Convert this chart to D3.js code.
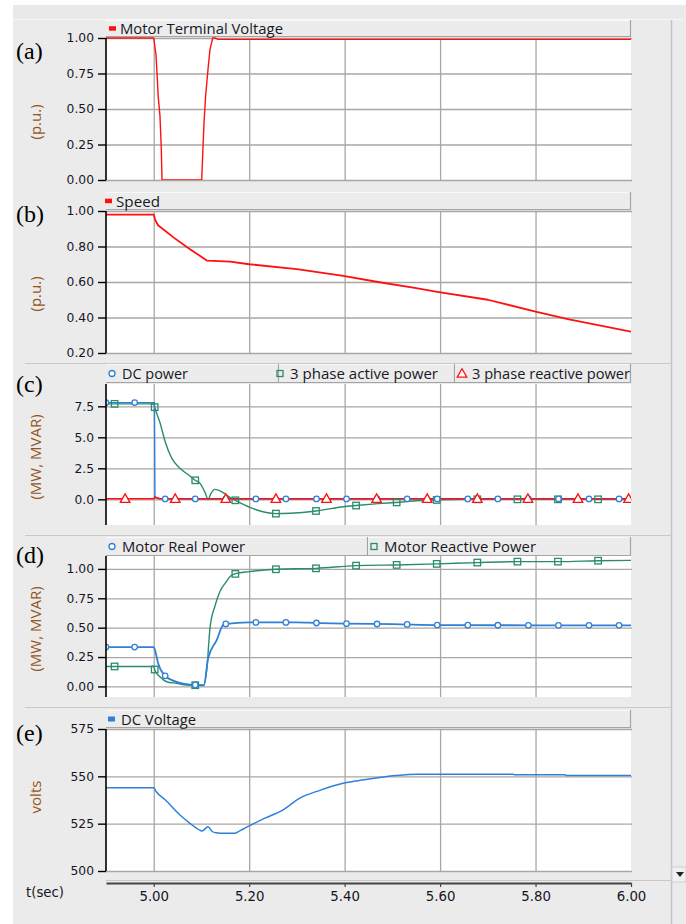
<!DOCTYPE html>
<html><head><meta charset="utf-8">
<script src="https://cdn.jsdelivr.net/npm/d3@7/dist/d3.min.js"></script>
<style>body{margin:0;background:#fff}svg{display:block}</style></head>
<body><svg id="c" width="686" height="924"></svg>
<script>
// ---------- data ----------
const xDomain = [4.9, 6.0];
const xTicks = [5.0, 5.2, 5.4, 5.6, 5.8, 6.0];
const xTickLabels = ["5.00", "5.20", "5.40", "5.60", "5.80", "6.00"];

// (a) Motor terminal voltage
const vtT = [4.90, 5.000, 5.0048, 5.0096, 5.0131, 5.0159, 5.0173, 5.1005, 5.1053, 5.1089, 5.1143, 5.1179, 5.1236, 5.1284, 5.135, 6.00];
const vtV = [1.00, 1.00, 0.88, 0.58, 0.45, 0.22, 0.00, 0.00, 0.40, 0.60, 0.80, 0.92, 1.00, 1.00, 0.99, 0.99];
const aTicks = [0, 0.25, 0.5, 0.75, 1.0];

// (b) Speed
const spT = [4.90, 5.000, 5.003, 5.009, 5.042, 5.076, 5.112, 5.160, 5.200, 5.300, 5.397, 5.47, 5.55, 5.594, 5.70, 5.80, 5.87, 6.00];
const spV = [0.98, 0.98, 0.95, 0.92, 0.85, 0.785, 0.72, 0.715, 0.70, 0.673, 0.635, 0.60, 0.565, 0.545, 0.50, 0.433, 0.39, 0.32];
const bTicks = [0.2, 0.4, 0.6, 0.8, 1.0];

// (c) DC power / 3 phase active / 3 phase reactive
const dcpT = [4.90, 5.0015, 5.0025, 5.02, 6.00];
const dcpV = [7.8, 7.8, 0.12, 0.03, 0.03];
const apT = [4.90, 5.000, 5.003, 5.013, 5.024, 5.038, 5.055, 5.076, 5.086, 5.097, 5.107, 5.114, 5.120, 5.128, 5.143, 5.160, 5.172, 5.191, 5.212, 5.256, 5.286, 5.340, 5.397, 5.424, 5.47, 5.508, 5.55, 5.594, 5.65, 6.00];
const apV = [7.7, 7.7, 7.3, 6.2, 4.65, 3.3, 2.5, 1.88, 1.56, 1.29, 0.6, 0.0, 0.48, 0.8, 0.6, 0.16, -0.1, -0.46, -0.8, -1.15, -1.12, -0.94, -0.6, -0.5, -0.35, -0.25, -0.12, -0.05, 0.0, 0.0];
const rpT = [4.90, 5.000, 5.003, 5.008, 5.012, 6.00];
const rpV = [0.05, 0.05, 0.2, 0.1, 0.05, 0.05];
const cTicks = [0, 2.5, 5.0, 7.5];

// (d) Motor real / reactive power
const mrT = [4.90, 5.000, 5.0027, 5.009, 5.024, 5.038, 5.055, 5.076, 5.097, 5.105, 5.114, 5.132, 5.147, 5.160, 5.20, 5.256, 5.30, 5.34, 5.40, 5.50, 5.60, 5.80, 6.00];
const mrV = [0.335, 0.335, 0.31, 0.20, 0.09, 0.054, 0.03, 0.015, 0.01, 0.01, 0.24, 0.395, 0.53, 0.535, 0.545, 0.545, 0.545, 0.54, 0.534, 0.53, 0.522, 0.52, 0.52];
const mqT = [4.90, 5.000, 5.0027, 5.013, 5.027, 5.048, 5.069, 5.097, 5.105, 5.111, 5.118, 5.128, 5.139, 5.150, 5.160, 5.172, 5.20, 5.256, 5.340, 5.424, 5.508, 5.594, 5.677, 5.761, 5.847, 5.931, 6.00];
const mqV = [0.17, 0.17, 0.135, 0.082, 0.04, 0.026, 0.011, 0.01, 0.01, 0.14, 0.50, 0.68, 0.81, 0.88, 0.935, 0.96, 0.977, 0.997, 1.005, 1.028, 1.034, 1.043, 1.054, 1.062, 1.062, 1.07, 1.073];
const dTicks = [0, 0.25, 0.5, 0.75, 1.0];

// (e) DC voltage
const dvT = [4.90, 5.000, 5.005, 5.024, 5.055, 5.076, 5.097, 5.101, 5.114, 5.122, 5.130, 5.149, 5.170, 5.181, 5.200, 5.233, 5.271, 5.306, 5.348, 5.397, 5.428, 5.466, 5.508, 5.552, 5.753, 5.755, 5.862, 5.864, 6.00];
const dvV = [544, 544, 542, 537.6, 529.6, 525.2, 521.5, 521.1, 523.4, 521, 520.2, 519.9, 520, 521.3, 523.8, 527.9, 532.3, 538.5, 542.6, 546.3, 547.7, 549.1, 550.4, 551.1, 551.1, 550.9, 550.9, 550.5, 550.5];
const eTicks = [500, 525, 550, 575];

// marker times (markers are placed at even spacing along the time axis)
const circleT = [4.90, 4.960, 5.024, 5.087, 5.151, 5.214, 5.277, 5.341, 5.404, 5.468, 5.531, 5.594, 5.658, 5.721, 5.785, 5.848, 5.912, 5.975];
const squareT = [4.918, 5.002, 5.087, 5.171, 5.256, 5.340, 5.424, 5.509, 5.593, 5.678, 5.762, 5.847, 5.931];
const triT = [4.940, 5.045, 5.151, 5.256, 5.362, 5.467, 5.573, 5.678, 5.784, 5.889, 5.995];

// ---------- styling ----------
const RED = "#ff1010", BLUE = "#2f80d8", GREEN = "#2a8c6c";
const svg = d3.select("#c");
const L = 106, R = 631;
const x = d3.scaleLinear().domain(xDomain).range([L, R]);

function interp(ts, vs, t) {
  const i = d3.bisectRight(ts, t);
  if (i <= 0) return vs[0];
  if (i >= ts.length) return vs[vs.length - 1];
  const f = (t - ts[i - 1]) / (ts[i] - ts[i - 1]);
  return vs[i - 1] + f * (vs[i] - vs[i - 1]);
}

// background frame
svg.append("rect").attr("x", 13).attr("y", 5).attr("width", 673).attr("height", 919).attr("fill", "#ebebeb");
svg.append("rect").attr("x", 13).attr("y", 5).attr("width", 670).attr("height", 14).attr("fill", "#e9e9e9");
svg.append("line").attr("x1", 13).attr("x2", 683).attr("y1", 19.5).attr("y2", 19.5).attr("stroke", "#f8f8f8");
svg.append("line").attr("x1", 671.5).attr("x2", 671.5).attr("y1", 20).attr("y2", 924).attr("stroke", "#c4c4c4").attr("stroke-width", 1.5);
[363.5, 535.5, 707.5, 880.5].forEach(yy =>
  svg.append("line").attr("x1", yy === 880.5 ? 106 : 25).attr("x2", 671).attr("y1", yy).attr("y2", yy)
    .attr("stroke", "#c8c8c8").attr("stroke-width", 1));
// scrollbar arrow box
svg.append("rect").attr("x", 672).attr("y", 867).attr("width", 14).attr("height", 15).attr("fill", "#f0f0f0").attr("stroke", "#d0d0d0");
svg.append("path").attr("d", "M676,872 L684,872 L680,877 Z").attr("fill", "#222");

const panels = [
  { id: "a", letter: "(a)", top: 38, bot: 180, dom: [0, 1], ticks: aTicks, fmt: d3.format(".2f"), title: "(p.u.)",
    legTop: 20, legBot: 37, letterY: 59, titleY: 122,
    series: [{ t: vtT, v: vtV, color: RED, w: 1.4 }],
    legend: [{ x0: 106, x1: 631, sym: "rect", color: RED, label: "Motor Terminal Voltage", tx: 120, len: 163 }] },
  { id: "b", letter: "(b)", top: 211, bot: 353, dom: [0.2, 1.0], ticks: bTicks, fmt: d3.format(".2f"), title: "(p.u.)",
    legTop: 192, legBot: 210, letterY: 222, titleY: 294,
    series: [{ t: spT, v: spV, color: RED, w: 1.8 }],
    legend: [{ x0: 106, x1: 631, sym: "rect", color: RED, label: "Speed", tx: 116, len: 44 }] },
  { id: "c", letter: "(c)", top: 384, bot: 525, dom: [-2.07, 9.3], ticks: cTicks, fmt: d3.format(".1f"), title: "(MW, MVAR)",
    legTop: 364, legBot: 383, letterY: 392, titleY: 457,
    series: [
      { t: apT, v: apV, color: GREEN, w: 1.4, marks: squareT, sym: "square", smooth: true },
      { t: dcpT, v: dcpV, color: BLUE, w: 1.4, marks: circleT, sym: "circle" },
      { t: rpT, v: rpV, color: RED, w: 1.6, marks: triT, sym: "tri" }],
    legend: [
      { x0: 106, x1: 279, sym: "circle", color: BLUE, label: "DC power", tx: 122, len: 66 },
      { x0: 279, x1: 455, sym: "square", color: GREEN, label: "3 phase active power", tx: 290, len: 148 },
      { x0: 455, x1: 631, sym: "tri", color: RED, label: "3 phase reactive power", tx: 472, len: 158 }] },
  { id: "d", letter: "(d)", top: 556, bot: 697, dom: [-0.09, 1.11], ticks: dTicks, fmt: d3.format(".2f"), title: "(MW, MVAR)",
    legTop: 537, legBot: 556, letterY: 563, titleY: 629,
    series: [
      { t: mqT, v: mqV, color: GREEN, w: 1.4, marks: squareT, sym: "square", smooth: true },
      { t: mrT, v: mrV, color: BLUE, w: 1.8, marks: circleT, sym: "circle", smooth: true }],
    legend: [
      { x0: 106, x1: 368, sym: "circle", color: BLUE, label: "Motor Real Power", tx: 122, len: 123 },
      { x0: 368, x1: 631, sym: "square", color: GREEN, label: "Motor Reactive Power", tx: 384, len: 152 }] },
  { id: "e", letter: "(e)", top: 729, bot: 871, dom: [500, 575], ticks: eTicks, fmt: d3.format("d"), title: "volts",
    legTop: 710, legBot: 728, letterY: 741, titleY: 797,
    series: [{ t: dvT, v: dvV, color: BLUE, w: 1.5, smooth: true }],
    legend: [{ x0: 106, x1: 631, sym: "rectB", color: BLUE, label: "DC Voltage", tx: 121, len: 75 }] }
];

function drawSym(g, sym, cx, cy, color, s) {
  if (sym === "circle") g.append("circle").attr("cx", cx).attr("cy", cy).attr("r", s * 0.5).attr("fill", "#fff").attr("stroke", color).attr("stroke-width", 1.3);
  else if (sym === "square") g.append("rect").attr("x", cx - s / 2).attr("y", cy - s / 2).attr("width", s).attr("height", s).attr("fill", "none").attr("stroke", color).attr("stroke-width", 1.3);
  else if (sym === "tri") g.append("path").attr("d", `M${cx},${cy - s * 0.6} L${cx + s * 0.6},${cy + s * 0.45} L${cx - s * 0.6},${cy + s * 0.45} Z`).attr("fill", "#fff").attr("stroke", color).attr("stroke-width", 1.3);
}

panels.forEach(p => {
  const y = d3.scaleLinear().domain(p.dom).range([p.bot, p.top]);
  const g = svg.append("g");
  // legend boxes
  p.legend.forEach(l => {
    g.append("rect").attr("x", l.x0).attr("y", p.legTop).attr("width", l.x1 - l.x0).attr("height", p.legBot - p.legTop).attr("fill", "#ececec");
    g.append("path").attr("d", `M${l.x0},${p.legTop + 0.5} H${l.x1 - 0.5}`).attr("stroke", "#f9f9f9").attr("fill", "none");
    g.append("path").attr("d", `M${l.x1 - 0.5},${p.legTop} V${p.legBot - 0.5} H${l.x0}`).attr("stroke", "#a4a4a4").attr("fill", "none").attr("stroke-width", 1.2);
    const cy = (p.legTop + p.legBot) / 2;
    if (l.sym === "rect") g.append("rect").attr("x", l.tx - 11).attr("y", cy - 2.3).attr("width", 7).attr("height", 4.5).attr("fill", l.color);
    else if (l.sym === "rectB") g.append("rect").attr("x", l.tx - 13).attr("y", cy - 2.5).attr("width", 7).attr("height", 5).attr("fill", l.color);
    else drawSym(g, l.sym, l.tx - 10, cy, l.color, l.sym === "tri" ? 8 : 6);
    g.append("text").attr("x", l.tx).attr("y", cy + 5.5).text(l.label)
      .attr("textLength", l.len).attr("lengthAdjust", "spacingAndGlyphs")
      .attr("font-family", "'Open Sans', 'Noto Sans', sans-serif").attr("font-size", 14.8).attr("fill", "#18181f");
  });
  // plot background
  g.append("rect").attr("x", L).attr("y", p.top).attr("width", R - L).attr("height", p.bot - p.top).attr("fill", "#fff");
  // horizontal gridlines
  g.append("g").attr("transform", `translate(${L},0)`)
    .call(d3.axisLeft(y).tickValues(p.ticks).tickSize(-(R - L + 1)).tickFormat(""))
    .call(a => a.select(".domain").remove())
    .selectAll("line").attr("stroke", "#aaa7a3").attr("stroke-width", 1.3);
  // vertical gridlines
  g.append("g").attr("transform", `translate(0,${p.bot})`)
    .call(d3.axisBottom(x).tickValues(xTicks.slice(0, 5)).tickSize(-(p.bot - p.top)).tickFormat(""))
    .call(a => a.select(".domain").remove())
    .selectAll("line").attr("stroke", "#aaa7a3").attr("stroke-width", 1.3);
  // clip
  const cid = "clip-" + p.id;
  svg.append("clipPath").attr("id", cid).append("rect").attr("x", L).attr("y", p.top - 1.5).attr("width", R - L).attr("height", p.bot - p.top + 1.5);
  const gl = g.append("g").attr("clip-path", `url(#${cid})`);
  p.series.forEach(s => {
    const line = d3.line().x(d => x(d[0])).y(d => y(d[1])).curve(s.smooth ? d3.curveMonotoneX : d3.curveLinear);
    gl.append("path").datum(s.t.map((t, i) => [t, s.v[i]])).attr("d", line)
      .attr("fill", "none").attr("stroke", s.color).attr("stroke-width", s.w).attr("stroke-linejoin", "round");
  });
  p.series.forEach(s => {
    if (!s.marks) return;
    s.marks.forEach(t => drawSym(gl, s.sym, x(t), y(interp(s.t, s.v, t)), s.color, s.sym === "tri" ? 8 : (s.sym === "circle" ? 5.5 : 6.5)));
  });
  // y axis
  const ya = g.append("g").attr("transform", `translate(${L},0)`)
    .call(d3.axisLeft(y).tickValues(p.ticks).tickFormat(p.fmt).tickSize(8).tickSizeOuter(0).tickPadding(4));
  ya.select(".domain").attr("d", `M0,${p.top}V${p.bot}`).attr("stroke", "#000").attr("stroke-width", 1.6);
  ya.selectAll(".tick line").attr("stroke", "#000").attr("stroke-width", 1.4);
  ya.selectAll("text").attr("font-family", "'DejaVu Sans', sans-serif").attr("font-size", 12.3).attr("fill", "#15151f");
  // titles
  svg.append("text").attr("transform", `translate(41,${p.titleY}) rotate(-90)`).attr("text-anchor", "middle")
    .text(p.title).attr("font-family", "'Open Sans', 'Noto Sans', sans-serif").attr("font-size", 15).attr("fill", "#94541a");
  svg.append("text").attr("x", 16).attr("y", p.letterY).text(p.letter)
    .attr("font-family", "'Liberation Serif', 'Times New Roman', serif").attr("font-size", 24).attr("fill", "#000");
});

// x axis
const xa = svg.append("g").attr("transform", "translate(0,883)")
  .call(d3.axisBottom(x).tickValues(xTicks).tickFormat((d, i) => xTickLabels[i]).tickSize(4).tickSizeOuter(0).tickPadding(5));
xa.select(".domain").attr("stroke", "#444").attr("stroke-width", 1.8);
xa.selectAll(".tick line").attr("stroke", "#444").attr("stroke-width", 1.2);
xa.selectAll("text").attr("font-family", "'DejaVu Sans', sans-serif").attr("font-size", 13.3).attr("fill", "#15151f");
svg.append("text").attr("x", 26).attr("y", 897).text("t(sec)")
  .attr("font-family", "'DejaVu Sans', sans-serif").attr("font-size", 13.3).attr("fill", "#15151f");
</script></body></html>
